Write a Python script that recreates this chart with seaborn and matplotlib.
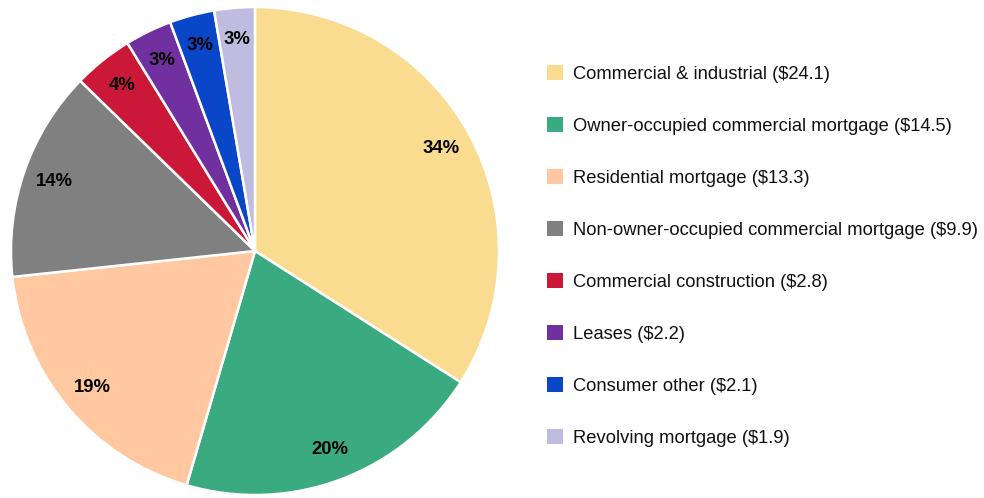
import matplotlib
matplotlib.use("Agg")
import matplotlib.pyplot as plt
import seaborn as sns

categories = ["Commercial & industrial", "Owner-occupied commercial mortgage",
              "Residential mortgage", "Non-owner-occupied commercial mortgage",
              "Commercial construction", "Leases", "Consumer other",
              "Revolving mortgage"]
values = [24.1, 14.5, 13.3, 9.9, 2.8, 2.2, 2.1, 1.9]
colors = ["#FADC90", "#3AAB80", "#FFC8A0", "#808080", "#CC1838",
          "#7030A0", "#0A46C8", "#C0BCE0"]

sns.set_theme(style="white")
plt.rcParams['font.family'] = ['Liberation Sans', 'DejaVu Sans']

fig = plt.figure(figsize=(9.84, 4.98), dpi=100)
r = 244
cx, cy = 255, 498 - 251
ax = fig.add_axes([(cx - r) / 984, (cy - r) / 498, 2 * r / 984, 2 * r / 498])

palette = sns.color_palette(colors)
wedges, texts, autotexts = ax.pie(
    values, colors=palette, startangle=90, counterclock=False,
    autopct=lambda p: f"{p:.0f}%", pctdistance=0.87,
    wedgeprops=dict(edgecolor="white", linewidth=1.8),
    textprops=dict(fontsize=13.3, fontweight="bold", color="black"))
ax.set_aspect("equal")
ax.set_xlim(-1, 1)
ax.set_ylim(-1, 1)
ax.axis("off")

labels = [f"{c} (${v})" for c, v in zip(categories, values)]
fig.legend(wedges, labels, loc="upper left",
           bbox_to_anchor=(547 / 984, 1 - 65 / 498),
           frameon=False, fontsize=13.2, borderpad=0, borderaxespad=0,
           handlelength=0.87, handleheight=0.87, handletextpad=0.55,
           labelspacing=1.87, labelcolor="#111111")
for h in fig.legends[0].legend_handles:
    h.set_edgecolor("none")

fig.savefig("out.png", dpi=100)
